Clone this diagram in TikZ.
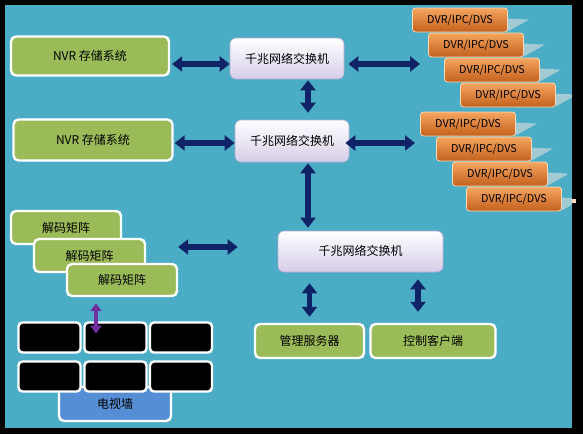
\documentclass[tikz,border=0pt]{standalone}
\usepackage{fontspec}
\setmainfont{Noto Sans CJK SC}
\usetikzlibrary{arrows.meta}

\definecolor{bgteal}{HTML}{4BACC6}
\definecolor{boxgreen}{HTML}{9BBB59}
\definecolor{arrownavy}{HTML}{0E2466}
\definecolor{wallblue}{HTML}{558ED5}
\definecolor{matrixpurple}{HTML}{7030A0}
\definecolor{switchlow}{HTML}{D6CDE8}
\definecolor{switchedge}{HTML}{B4ABD2}
\definecolor{dvrtop}{HTML}{F5A660}
\definecolor{dvrlow}{HTML}{C2601C}
\definecolor{dvredge}{HTML}{FAD9B9}
\definecolor{wedgepale}{HTML}{A2CBD3}

\tikzset{
  greenbox/.style={rectangle, rounded corners=5pt, draw=white, line width=2.4pt, fill=boxgreen},
  switchbox/.style={rectangle, rounded corners=6pt, draw=switchedge, line width=0.6pt,
    top color=white, bottom color=switchlow},
  dvrbox/.style={rectangle, rounded corners=3pt, draw=dvredge, line width=0.8pt,
    top color=dvrtop, bottom color=dvrlow, minimum width=95pt, minimum height=24pt,
    font=\fontsize{10.8}{12}\selectfont},
  tile/.style={rectangle, rounded corners=4pt, draw=white, line width=2.4pt, fill=black,
    minimum width=62pt, minimum height=30pt},
  biarrow/.style={draw=arrownavy, line width=5.5pt,
    {Triangle[width=15pt,length=10pt]}-{Triangle[width=15pt,length=10pt]}},
  purplearrow/.style={draw=matrixpurple, line width=4pt,
    {Triangle[width=11pt,length=8pt]}-{Triangle[width=11pt,length=8pt]}},
}

\begin{document}
\begin{tikzpicture}[x=1pt, y=-1pt, font=\fontsize{12}{14}\selectfont]
  \useasboundingbox (0,0) rectangle (583,434);
  \fill[black] (0,0) rectangle (583,434);
  \fill[bgteal] (5,5) rectangle (572,428);

  % storage and switches
  \node[greenbox, minimum width=158pt, minimum height=39pt] (nvr1) at (90,56) {NVR 存储系统};
  \node[greenbox, minimum width=159pt, minimum height=41pt] (nvr2) at (93,140) {NVR 存储系统};
  \node[switchbox, minimum width=114pt, minimum height=41pt] (sw1) at (287,58.5) {千兆网络交换机};
  \node[switchbox, minimum width=114pt, minimum height=42pt] (sw2) at (292,141) {千兆网络交换机};
  \node[switchbox, minimum width=165pt, minimum height=41pt] (sw3) at (360.5,251.5) {\raisebox{3pt}{千兆网络交换机}};
  \node[greenbox, minimum width=109pt, minimum height=34pt] (mgr) at (309.5,341) {管理服务器};
  \node[greenbox, minimum width=125pt, minimum height=34pt] (cli) at (433,341) {控制客户端};

  % camera groups
  \begin{scope}
    \clip (5,5) rectangle (572,428);
    \foreach \i/\x/\y in {1/460/20, 2/476/45, 3/492/70, 4/508/95} {
      \node[dvrbox] (ga\i) at (\x,\y) {\raisebox{-2pt}{DVR/IPC/DVS}};
      \fill[wedgepale] ([yshift=-11pt]ga\i.north east) -- ++(21pt,-1pt) -- ([yshift=1pt]ga\i.south east) -- cycle;
    }
    \foreach \i/\x/\y in {1/468/124, 2/484/149, 3/500/174, 4/514/199} {
      \node[dvrbox] (gb\i) at (\x,\y) {\raisebox{-2pt}{DVR/IPC/DVS}};
      \fill[wedgepale] ([yshift=-11pt]gb\i.north east) -- ++(21pt,-1pt) -- ([yshift=1pt]gb\i.south east) -- cycle;
    }
  \end{scope}
  \fill[dvredge] (572,199) rectangle (576,203);
  \coordinate (gain) at (420,64);
  \coordinate (gbin) at (415,143);

  % decoders and video wall
  \node[greenbox, minimum width=110pt, minimum height=33pt] (dec1) at (66,227.5) {解码矩阵};
  \node[greenbox, minimum width=111pt, minimum height=33pt] (dec2) at (89.5,255.5) {解码矩阵};
  \node[greenbox, minimum width=110pt, minimum height=32pt] (dec3) at (122,280) {解码矩阵};
  \node[greenbox, fill=wallblue, minimum width=112pt, minimum height=34pt] (wall) at (115,404) {\raisebox{-3pt}{电视墙}};
  \foreach \r/\y in {1/337.5, 2/376.5}
    \foreach \c/\x in {1/49.5, 2/115.5, 3/181}
      \node[tile] (t\r\c) at (\x,\y) {};

  % links
  \draw[biarrow, shorten <=2pt] ([yshift=-8pt]nvr1.east) coordinate (a1) -- (a1 -| sw1.west);
  \draw[biarrow, shorten <=4pt] ([yshift=-5.5pt]sw1.east) coordinate (a2) -- (a2 -| gain);
  \draw[biarrow, shorten <=1pt, shorten >=7pt] ([xshift=21pt]sw1.south) coordinate (a3) -- (a3 |- sw2.north);
  \draw[biarrow, shorten <=1pt] ([yshift=-3pt]nvr2.east) coordinate (a4) -- (a4 -| sw2.west);
  \draw[biarrow, shorten <=-4pt] ([yshift=-2pt]sw2.east) coordinate (a5) -- (a5 -| gbin);
  \draw[biarrow, shorten <=1pt, shorten >=3pt] ([xshift=16pt]sw2.south) coordinate (a6) -- (a6 |- sw3.north);
  \coordinate (a7) at ([yshift=4.5pt]sw3.west);
  \draw[biarrow, shorten >=40pt] (a7 -| dec3.east) -- (a7);
  \draw[biarrow, shorten <=11pt, shorten >=6pt] (mgr.north |- sw3.south) -- (mgr.north);
  \draw[biarrow, shorten <=11pt, shorten >=7pt] ([xshift=-15pt]cli.north) coordinate (a8) -- (a8 |- sw3.south);
  \draw[purplearrow, shorten <=6pt, shorten >=4pt] ([xshift=-26pt]dec3.south) coordinate (a9) -- (a9 |- t12.center);
\end{tikzpicture}
\end{document}
